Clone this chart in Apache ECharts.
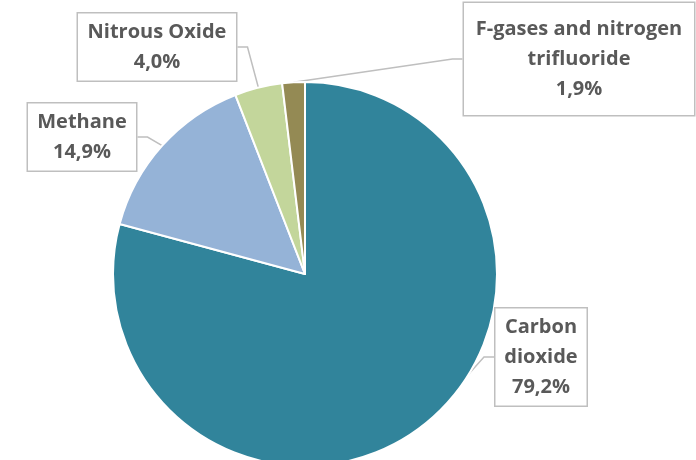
<!DOCTYPE html>
<html><head><meta charset="utf-8">
<script src="https://cdn.jsdelivr.net/npm/echarts@6/dist/echarts.min.js"></script>
<style>html,body{margin:0;padding:0;background:#fff}#c{width:696px;height:460px}</style>
</head><body><div id="c"></div>
<script>
const categories = ['Carbon dioxide', 'Methane', 'Nitrous Oxide', 'F-gases and nitrogen trifluoride'];
const labelNames = ['Carbon\ndioxide', 'Methane', 'Nitrous Oxide', 'F-gases and nitrogen\ntrifluoride'];
const values = [79.2, 14.9, 4.0, 1.9];
const colors = ['#31849B', '#95B3D7', '#C3D69B', '#948A54'];
// label box layout: center x, center y, width, height
const boxLayout = [
  [541, 357, 93, 99],
  [82, 137, 110, 69],
  [157, 47, 160, 69],
  [579, 59, 232, 114]
];
const chart = echarts.init(document.getElementById('c'), null, {renderer: 'canvas'});
const data = categories.map((c, i) => ({
  name: c, value: values[i],
  itemStyle: {color: colors[i]},
  label: {width: boxLayout[i][2] - 2, height: boxLayout[i][3] - 2}
}));
chart.setOption({
  animation: false,
  series: [{
    type: 'pie',
    center: [305, 274],
    radius: [0, 192],
    startAngle: 90,
    clockwise: true,
    avoidLabelOverlap: false,
    itemStyle: {borderColor: '#ffffff', borderWidth: 2},
    data: data,
    label: {
      show: true,
      formatter: p => labelNames[p.dataIndex] + '\n' + p.value.toFixed(1).replace('.', ',') + '%',
      fontFamily: 'Open Sans',
      fontWeight: 'bold',
      fontSize: 20,
      lineHeight: 30,
      color: '#595959',
      backgroundColor: '#ffffff',
      borderColor: '#BFBFBF',
      borderWidth: 1.5,
      align: 'center',
      verticalAlign: 'middle',
      padding: 0
    },
    labelLine: {show: true, length: 10, length2: 10, lineStyle: {color: '#BFBFBF', width: 1.5}},
    labelLayout: function (params) {
      const b = boxLayout[params.dataIndex];
      return {x: b[0], y: b[1], align: 'center', verticalAlign: 'middle'};
    }
  }]
});
</script></body></html>
